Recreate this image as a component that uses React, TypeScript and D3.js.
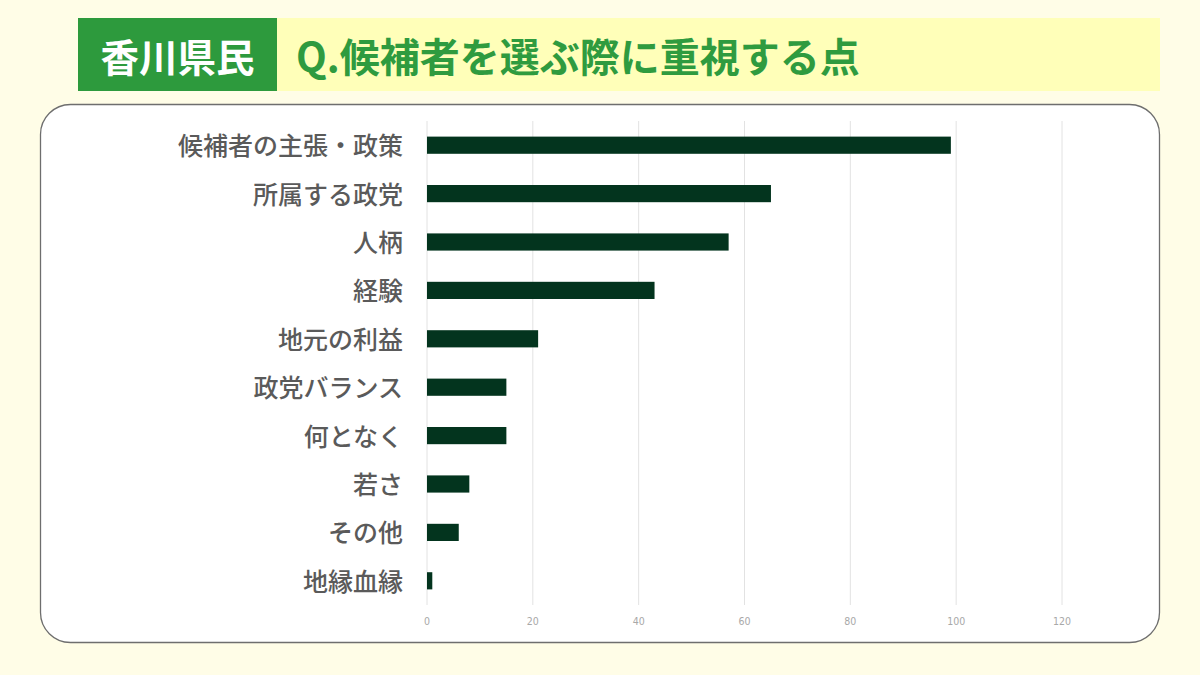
import React from "react";
import * as d3 from "d3";

const categories = [
  "候補者の主張・政策",
  "所属する政党",
  "人柄",
  "経験",
  "地元の利益",
  "政党バランス",
  "何となく",
  "若さ",
  "その他",
  "地縁血縁",
];
const values = [99, 65, 57, 43, 21, 15, 15, 8, 6, 1];
const xTicks = [0, 20, 40, 60, 80, 100, 120];
const headerTag = "香川県民";
const headerTitle = "Q.候補者を選ぶ際に重視する点";

const W = 1200;
const H = 675;
const FONT = "'Noto Sans CJK JP', 'Noto Sans', sans-serif";

export default function App() {
  const x = d3.scaleLinear().domain([0, 120]).range([427, 1062]);
  const y = d3
    .scaleBand<string>()
    .domain(categories)
    .range([121, 605])
    .paddingInner(0.645)
    .paddingOuter(0.3225);

  return (
    <div style={{ position: "absolute", left: 0, top: 0 }}>
      <svg width={W} height={H} style={{ display: "block" }}>
        <rect x={0} y={0} width={W} height={H} fill="#fffde7" />
        {/* header */}
        <rect x={277} y={18} width={883} height={73} fill="#ffffb9" />
        <rect x={78} y={18} width={199} height={73} fill="#2d9a3d" />
        <text
          x={177.5}
          y={55}
          textAnchor="middle"
          dominantBaseline="central"
          fill="#ffffff"
          fontFamily={FONT}
          fontWeight={700}
          fontSize={38.5}
        >
          {headerTag}
        </text>
        <text
          x={296}
          y={55}
          dominantBaseline="central"
          fill="#2f9b3f"
          fontFamily={FONT}
          fontWeight={700}
          fontSize={40}
        >
          {headerTitle}
        </text>
        {/* panel */}
        <rect
          x={40.5}
          y={104.5}
          width={1119}
          height={538}
          rx={30}
          ry={30}
          fill="#ffffff"
          stroke="#6e6e6e"
          strokeWidth={1.3}
        />
        {/* grid */}
        {xTicks.map((t) => (
          <line
            key={"g" + t}
            x1={x(t)}
            x2={x(t)}
            y1={121}
            y2={605}
            stroke="#e2e2e2"
            strokeWidth={1}
          />
        ))}
        {xTicks.map((t) => (
          <text
            key={"t" + t}
            x={x(t)}
            y={621}
            textAnchor="middle"
            dominantBaseline="central"
            fill="#a8a8a8"
            fontFamily="'DejaVu Sans Condensed', 'DejaVu Sans', sans-serif"
            fontWeight={200}
            fontSize={10.5}
          >
            {t}
          </text>
        ))}
        {/* bars */}
        {categories.map((c, i) => (
          <rect
            key={"b" + c}
            x={x(0)}
            y={y(c)}
            width={x(values[i]) - x(0)}
            height={y.bandwidth()}
            fill="#03341e"
          />
        ))}
        {/* labels */}
        {categories.map((c) => (
          <text
            key={"l" + c}
            x={403}
            y={(y(c) as number) + y.bandwidth() / 2 - 1}
            textAnchor="end"
            dominantBaseline="central"
            fill="#5a5a5a"
            fontFamily={FONT}
            fontWeight={500}
            fontSize={25}
          >
            {c}
          </text>
        ))}
      </svg>
    </div>
  );
}
